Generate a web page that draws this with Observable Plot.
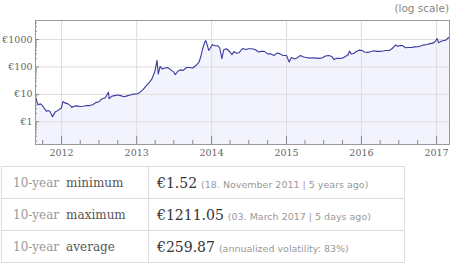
<!DOCTYPE html>
<html><head><meta charset="utf-8">
<script src="https://cdn.jsdelivr.net/npm/d3@7"></script>
<script src="https://cdn.jsdelivr.net/npm/@observablehq/plot@0.6"></script>
<style>
body{margin:0;background:#fff;}
#wrap{position:relative;width:450px;height:266px;overflow:hidden;}
#note{position:absolute;right:1px;top:2px;font:10.5px "DejaVu Sans";color:#888;}
#chart svg{display:block;}
table{border-collapse:collapse;margin-top:6px;margin-left:1px;}
td{border:1px solid #ddd;height:31px;padding:0;vertical-align:middle;white-space:nowrap;}
td.l{width:135px;padding-left:11px;font:12px "DejaVu Serif";}
td.l .a{color:#999;}
td.l .b{color:#555;margin-left:7px;}
td.v{width:247px;padding-left:8px;}
td.v .n{font:14px "DejaVu Serif";color:#333;}
td.v .s{font:9.5px "DejaVu Sans";color:#999;margin-left:4px;}
</style>
</head><body>
<div id="wrap"><div id="chart"></div><div id="note">(log scale)</div><div id="tbl"></div></div>
<script>
const dates = ["2011-08-27","2011-09-01","2011-09-08","2011-09-20","2011-10-01","2011-10-10","2011-10-20","2011-10-28","2011-11-05","2011-11-18","2011-12-01","2011-12-15","2011-12-31",
"2012-01-08","2012-01-15","2012-02-01","2012-02-15","2012-02-20","2012-03-01","2012-03-15","2012-04-01","2012-04-15","2012-05-01","2012-05-15","2012-06-01","2012-06-15","2012-07-01","2012-07-15","2012-08-01","2012-08-16","2012-08-20","2012-09-01","2012-09-15","2012-10-01","2012-10-15","2012-11-01","2012-11-15","2012-12-01","2012-12-15",
"2013-01-01","2013-01-15","2013-02-01","2013-02-15","2013-03-01","2013-03-15","2013-03-31","2013-04-10","2013-04-16","2013-04-25","2013-05-05","2013-05-15","2013-06-01","2013-06-15","2013-07-01","2013-07-08","2013-07-20","2013-08-01","2013-08-15","2013-09-01","2013-09-15","2013-10-01","2013-10-15","2013-11-01","2013-11-10","2013-11-18","2013-11-30","2013-12-04","2013-12-10","2013-12-18","2013-12-25",
"2014-01-05","2014-01-15","2014-02-01","2014-02-10","2014-02-20","2014-03-01","2014-03-15","2014-04-01","2014-04-10","2014-04-20","2014-05-01","2014-05-15","2014-06-01","2014-06-15","2014-07-01","2014-07-15","2014-08-01","2014-08-18","2014-09-01","2014-09-15","2014-10-01","2014-10-15","2014-11-01","2014-11-15","2014-12-01","2014-12-15",
"2015-01-01","2015-01-14","2015-01-25","2015-02-10","2015-02-20","2015-03-10","2015-03-25","2015-04-10","2015-04-25","2015-05-10","2015-05-25","2015-06-10","2015-06-25","2015-07-10","2015-07-25","2015-08-10","2015-08-20","2015-09-01","2015-09-15","2015-10-01","2015-10-15","2015-10-28","2015-11-04","2015-11-12","2015-11-25","2015-12-05","2015-12-20",
"2016-01-05","2016-01-15","2016-02-01","2016-02-15","2016-03-01","2016-03-15","2016-04-01","2016-04-15","2016-05-01","2016-05-15","2016-05-30","2016-06-17","2016-06-25","2016-07-05","2016-07-20","2016-08-02","2016-08-15","2016-09-01","2016-09-15","2016-10-01","2016-10-15","2016-11-01","2016-11-15","2016-12-01","2016-12-15","2016-12-25",
"2017-01-04","2017-01-11","2017-01-20","2017-02-01","2017-02-15","2017-02-25","2017-03-03","2017-03-05"];
const prices = [7.0,6.3,4.2,4.5,3.8,3.0,2.4,2.6,2.4,1.52,2.3,2.6,3.2,
5.5,5.0,4.5,3.8,3.3,3.7,3.8,3.6,3.7,3.9,3.9,4.2,5.0,5.4,6.8,7.5,12.0,7.0,8.5,9.0,9.5,9.0,8.2,8.8,9.5,10.2,
10.3,11.5,15,20,26,35,70,175,55,105,85,90,95,80,65,52,70,78,75,95,95,92,110,150,250,450,850,900,650,400,480,
650,600,590,480,200,420,460,350,280,360,320,330,470,430,460,460,430,350,370,370,300,300,260,320,300,260,
260,150,220,195,210,260,230,220,210,215,210,205,215,250,260,240,185,205,205,210,240,280,380,300,310,360,410,
400,350,340,360,390,370,370,380,400,400,470,640,560,600,600,500,510,510,540,545,580,640,660,710,740,850,
1080,760,840,900,950,1110,1211,1150];
const yearTicks = [2012,2013,2014,2015,2016,2017];
const priceTicks = [1,10,100,1000];
const statLabels = ["minimum","maximum","average"];
const statValues = ["€1.52","€1211.05","€259.87"];
const statNotes = ["(18. November 2011 | 5 years ago)","(03. March 2017 | 5 days ago)","(annualized volatility: 83%)"];

const data = dates.map((d,i)=>({date:new Date(d), price:prices[i]}));
const W=450,H=160,mL=35,mR=1,mT=20,mB=16;
const plotW=W-mL-mR, plotH=H-mT-mB;
const yMin=0.1486, yMax=4936;
const xDomain=[new Date("2011-08-27"), new Date("2017-03-05")];
const yearDates = yearTicks.map(y=>new Date(Date.UTC(y,0,1)));
const quarterDates = d3.utcMonth.every(3).range(xDomain[0], xDomain[1]).filter(d=>d.getUTCMonth()!==0);
const minorY = [];
for (let e=-1;e<=3;e++) for (let m=2;m<=9;m++){const v=m*Math.pow(10,e); if(v>yMin&&v<yMax) minorY.push(v);}

const chart = Plot.plot({
  width:W, height:H, marginLeft:mL, marginRight:mR, marginTop:mT, marginBottom:mB,
  style:{fontFamily:"DejaVu Serif", fontSize:"9.5px", color:"#666", background:"#fff"},
  x:{type:"utc", domain:xDomain, label:null},
  y:{type:"log", domain:[yMin,yMax], label:null},
  marks:[
    Plot.areaY(data,{x:"date", y1:yMin, y2:"price", fill:"#f3f3fd", clip:true}),
    Plot.gridX({ticks:yearDates, stroke:"#ddd", strokeOpacity:1}),
    Plot.gridY({ticks:priceTicks, stroke:"#ddd", strokeOpacity:1}),
    Plot.tickX(yearDates,{x:d=>d, stroke:"#888", insetTop:plotH-8}),
    Plot.tickX(quarterDates,{x:d=>d, stroke:"#888", insetTop:plotH-4}),
    Plot.tickY(priceTicks,{y:d=>d, stroke:"#888", insetRight:plotW-4}),
    Plot.tickY(minorY,{y:d=>d, stroke:"#888", insetRight:plotW-2}),
    Plot.lineY(data,{x:"date", y:"price", stroke:"#3b3b9e", strokeWidth:1.1, clip:true}),
    Plot.frame({stroke:"#999"}),
    Plot.axisX({ticks:yearDates, tickSize:0, tickPadding:5, label:null, tickFormat:d=>String(d.getUTCFullYear())}),
    Plot.axisY({ticks:priceTicks, tickSize:0, tickPadding:3, label:null, tickFormat:d=>"€"+d})
  ]
});
document.getElementById("chart").appendChild(chart);

const tbl = document.createElement("table");
statLabels.forEach((lab,i)=>{
  const tr = document.createElement("tr");
  const td1 = document.createElement("td"); td1.className="l";
  const a=document.createElement("span"); a.className="a"; a.textContent="10-year";
  const b=document.createElement("span"); b.className="b"; b.textContent=lab;
  td1.append(a,b);
  const td2 = document.createElement("td"); td2.className="v";
  const n=document.createElement("span"); n.className="n"; n.textContent=statValues[i];
  const s=document.createElement("span"); s.className="s"; s.textContent=statNotes[i];
  td2.append(n,s);
  tr.append(td1,td2); tbl.appendChild(tr);
});
document.getElementById("tbl").appendChild(tbl);
</script>
</body></html>
